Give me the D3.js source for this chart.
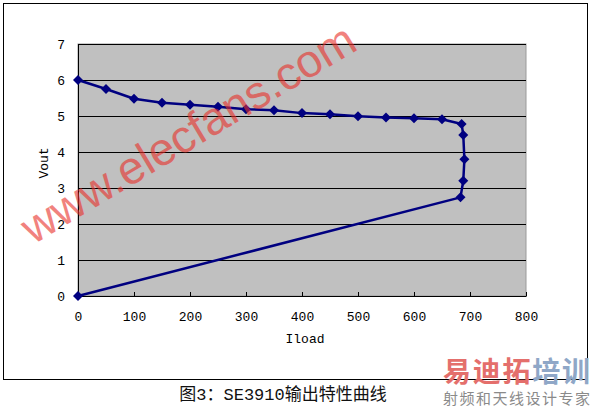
<!DOCTYPE html>
<html>
<head>
<meta charset="utf-8">
<script src="https://cdn.jsdelivr.net/npm/d3@7"></script>
<style>
  body { margin: 0; background: #fff; }
  text { font-family: "Liberation Mono", "Noto Sans CJK SC", monospace; }
</style>
</head>
<body>
<div id="chart"></div>
<script>
// data
var iload = [0, 50, 100, 150, 200, 250, 300, 350, 400, 450, 500, 550, 600, 650, 685, 688, 690, 688, 683, 0];
var vout  = [6, 5.75, 5.48, 5.37, 5.31, 5.26, 5.19, 5.16, 5.08, 5.05, 4.99, 4.96, 4.94, 4.91, 4.78, 4.47, 3.8, 3.2, 2.74, 0];
var xTicks = [0, 100, 200, 300, 400, 500, 600, 700, 800];
var yTicks = [0, 1, 2, 3, 4, 5, 6, 7];

var svgWidth = 596;
var svgHeight = 409;
var margin = { top: 44, right: 70, bottom: 113, left: 78 };
var width = 526 - margin.left;
var height = 296 - margin.top;

var svg = d3.select("#chart")
  .append("svg")
  .attr("width", svgWidth)
  .attr("height", svgHeight);

// outer chart frame
svg.append("rect")
  .attr("x", 3.5).attr("y", 3.5)
  .attr("width", 584).attr("height", 376)
  .attr("fill", "none")
  .attr("stroke", "#000");

var chartGroup = svg.append("g")
  .attr("transform", `translate(${margin.left}, ${margin.top})`);

var x = d3.scaleLinear().domain([0, 800]).range([0, width]);
var y = d3.scaleLinear().domain([0, 7]).range([height, 0]);

// gray plot area
chartGroup.append("rect")
  .attr("width", width).attr("height", height)
  .attr("fill", "#c0c0c0")
  .attr("stroke", "#9a9a9a");

// gridlines
chartGroup.selectAll(".grid")
  .data(yTicks.filter(d => d > 0))
  .enter()
  .append("line")
  .attr("x1", 0).attr("x2", width)
  .attr("y1", d => Math.round(y(d)) + 0.5)
  .attr("y2", d => Math.round(y(d)) + 0.5)
  .attr("stroke", "#000");

// axes
var bottomAxis = d3.axisBottom(x).tickValues(xTicks).tickSizeInner(-4).tickSizeOuter(0).tickPadding(16);
var leftAxis = d3.axisLeft(y).tickValues(yTicks).tickFormat(d3.format("d")).tickSize(0).tickPadding(13);

var xAxisG = chartGroup.append("g")
  .attr("transform", `translate(0, ${height})`)
  .call(bottomAxis);
var yAxisG = chartGroup.append("g").call(leftAxis);

[xAxisG, yAxisG].forEach(g => {
  g.select(".domain").attr("stroke", "#000");
  g.selectAll("line").attr("stroke", "#000");
  g.selectAll("text")
    .style("font-size", "13px")
    .style("font-family", "Liberation Mono")
    .attr("fill", "#000");
});

// curve
var line = d3.line()
  .x(i => x(iload[i]))
  .y(i => y(vout[i]));

var idx = d3.range(iload.length);

chartGroup.append("path")
  .datum(idx)
  .attr("d", line)
  .attr("fill", "none")
  .attr("stroke", "#000080")
  .attr("stroke-width", 2.5)
  .attr("stroke-linejoin", "round");

chartGroup.selectAll(".marker")
  .data(idx)
  .enter()
  .append("path")
  .attr("d", "M0,-5L5,0L0,5L-5,0Z")
  .attr("transform", i => `translate(${x(iload[i])}, ${y(vout[i])})`)
  .attr("fill", "#000080");

// axis titles
chartGroup.append("text")
  .attr("transform", "rotate(-90)")
  .attr("x", -(height / 2) + 7)
  .attr("y", -30)
  .attr("text-anchor", "middle")
  .style("font-size", "13px")
  .text("Vout");

chartGroup.append("text")
  .attr("x", width / 2 + 3)
  .attr("y", height + 47)
  .attr("text-anchor", "middle")
  .style("font-size", "13px")
  .text("Iload");

// watermark
svg.append("text")
  .attr("transform", "translate(188, 133) rotate(-31)")
  .attr("text-anchor", "middle")
  .attr("dy", "0.35em")
  .style("font-family", "Liberation Sans")
  .style("font-size", "46px")
  .attr("fill", "#e8302a")
  .attr("opacity", 0.6)
  .text("www.elecfans.com");

// caption
svg.append("text")
  .attr("x", 283)
  .attr("y", 400)
  .attr("text-anchor", "middle")
  .style("font-size", "17px")
  .attr("fill", "#111")
  .text("图3：SE3910输出特性曲线");

// logo bottom right
var logo = svg.append("text")
  .attr("x", 443)
  .attr("y", 382)
  .attr("textLength", 147)
  .style("font-family", "Noto Sans CJK SC")
  .style("font-size", "28px")
  .style("font-weight", "bold");
logo.append("tspan").attr("fill", "#e46f6c").text("易迪拓");
logo.append("tspan").attr("fill", "#8fa7c7").text("培训");

svg.append("text")
  .attr("x", 443)
  .attr("y", 404)
  .attr("textLength", 147)
  .style("font-family", "Noto Sans CJK SC")
  .style("font-size", "15px")
  .attr("fill", "#8a8a8a")
  .text("射频和天线设计专家");
</script>
</body>
</html>
